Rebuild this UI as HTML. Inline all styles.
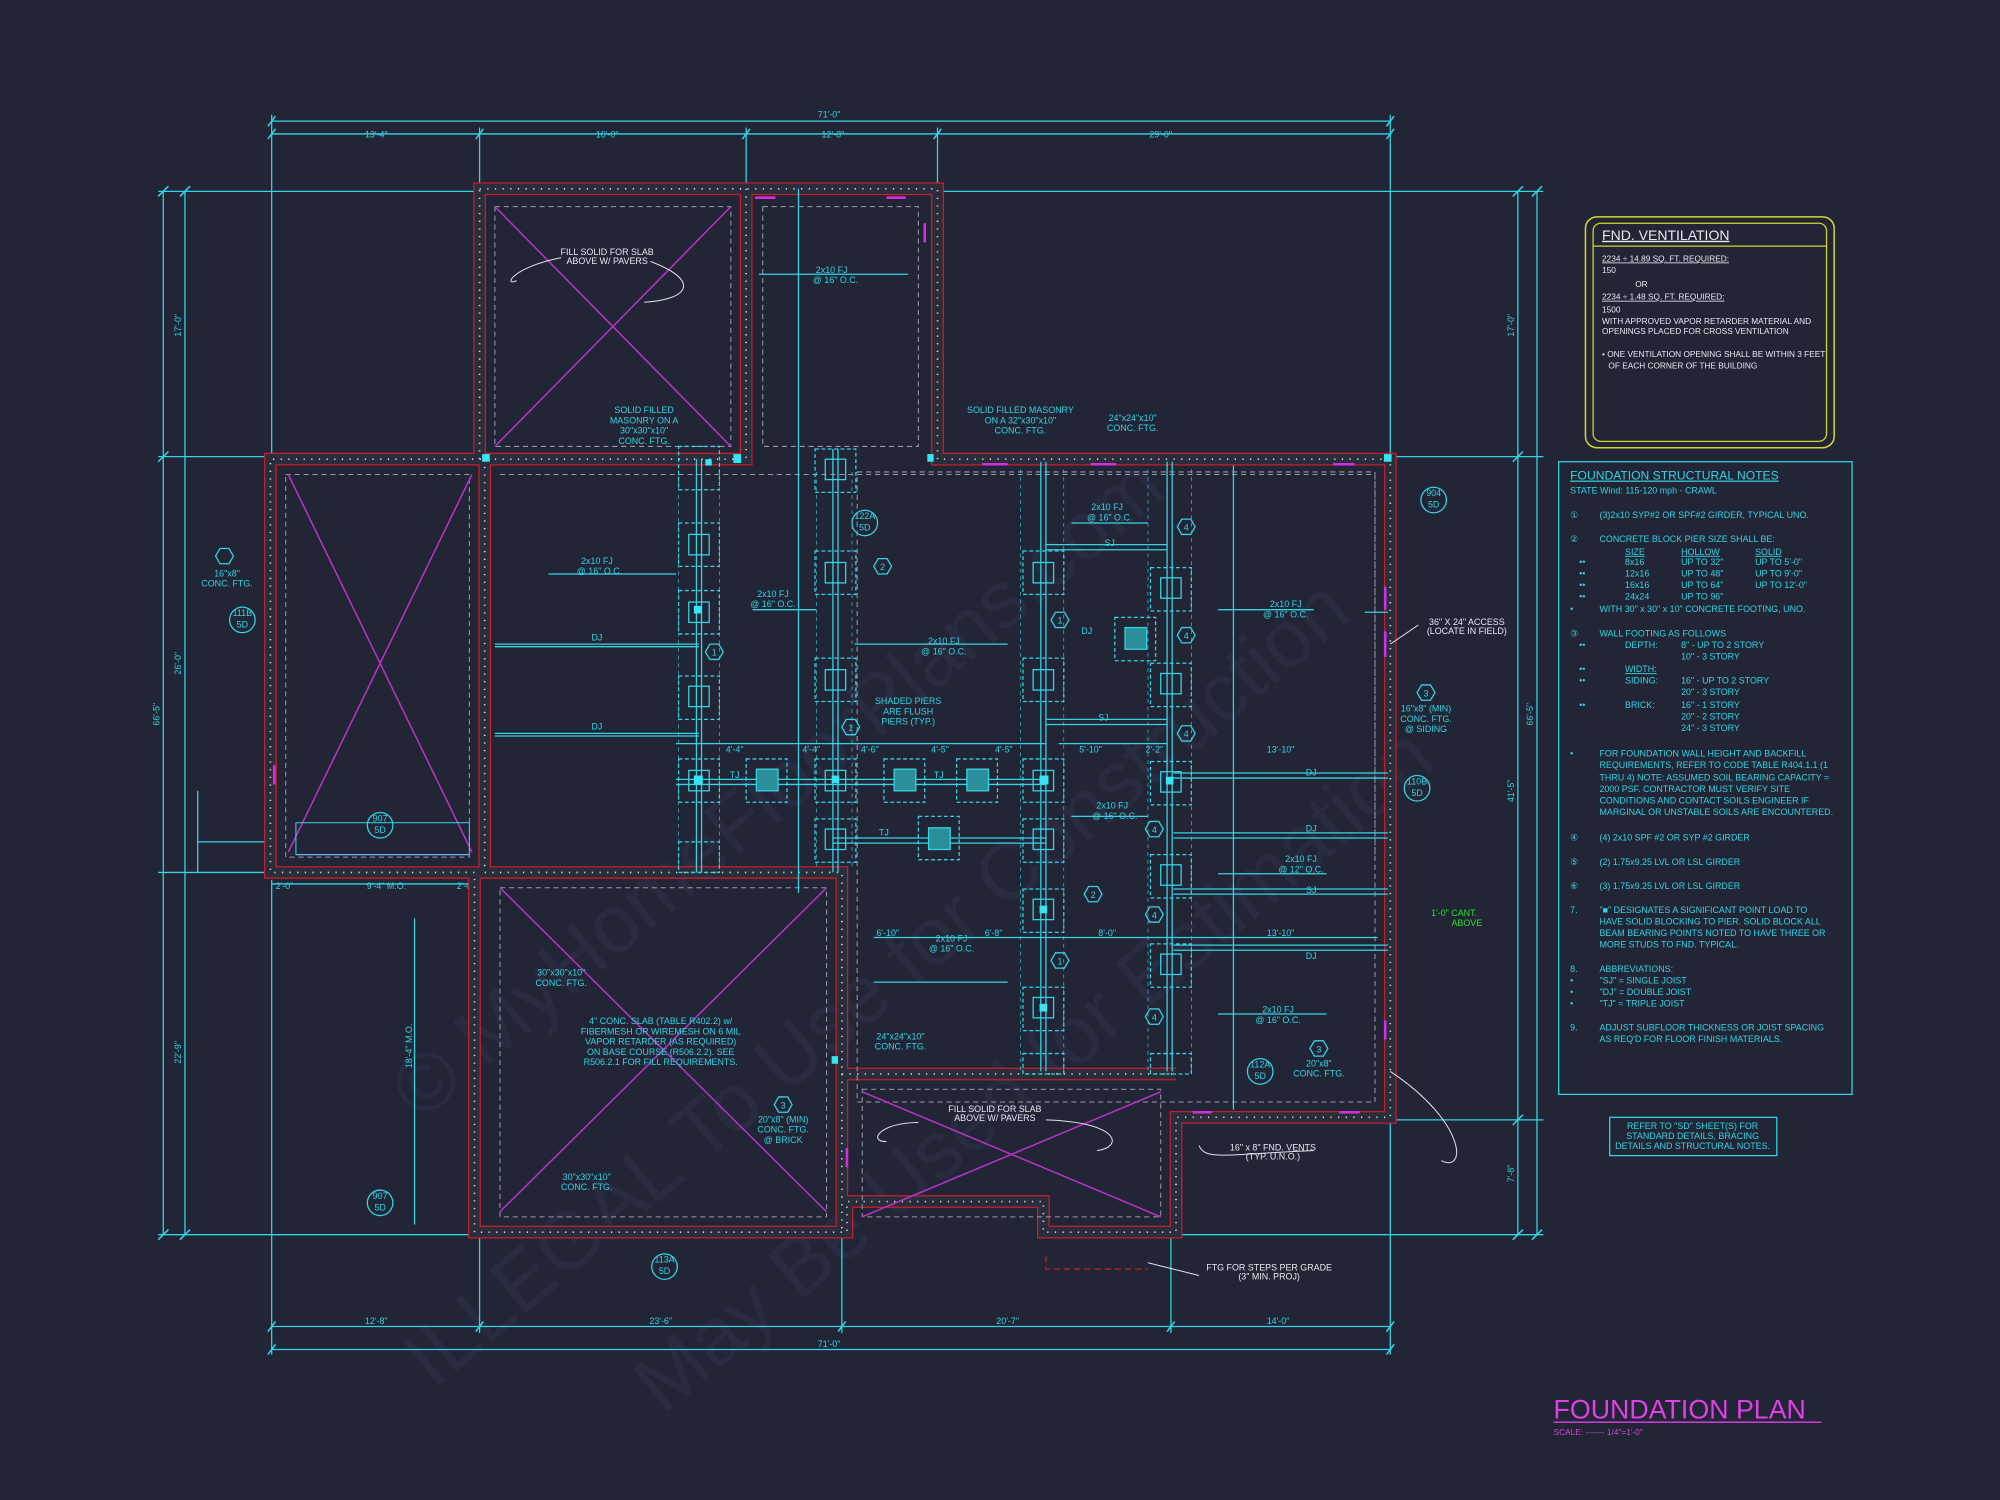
<!DOCTYPE html>
<html><head><meta charset="utf-8"><style>
html,body{margin:0;padding:0;background:#222536;}
svg{display:block}
text{font-family:"Liberation Sans",sans-serif;}
.c{fill:#35d4e2;font-size:7px}
.w{fill:#e8e8ee;font-size:7px}
.y{fill:#e8e8ee;font-size:6.5px}
</style></head><body>
<svg width="2000" height="1500" viewBox="0 0 1568 1176" xmlns="http://www.w3.org/2000/svg">
<defs>
<path id="ow" d="M376,148 H735 V360 H1090 V876 H922 V966 H818 V942 H664 V966 H372 V684 H212 V360 H376 Z M376,360 H585 V148 M380,360 V684 H660 V842 H922 M660,842 V966"/>
<path id="hx" d="M-7,0l3.5,-6h7l3.5,6l-3.5,6h-7z"/>
</defs>
<rect width="1568" height="1176" fill="#222536"/>
<!-- watermark -->
<g fill="#30344a" font-family="Liberation Serif" font-size="64" opacity="0.5">
<text transform="translate(330,880) rotate(-40)">© MyHomeFloorPlans.com</text>
<text transform="translate(340,1090) rotate(-40)">ILLEGAL To Use for Construction</text>
<text transform="translate(520,1110) rotate(-40)">May Be Used for Estimation</text>
</g>
<!-- dimension lines -->
<g stroke="#35d4e2" stroke-width="1" fill="none">
<line x1="213" y1="95" x2="1090" y2="95"/>
<line x1="213" y1="105" x2="1090" y2="105"/>
<line x1="213" y1="1040" x2="1090" y2="1040"/>
<line x1="213" y1="1058" x2="1090" y2="1058"/>
<line x1="128" y1="150" x2="128" y2="968"/>
<line x1="145" y1="150" x2="145" y2="968"/>
<line x1="1190" y1="150" x2="1190" y2="968"/>
<line x1="1205" y1="150" x2="1205" y2="968"/>
<line x1="213" y1="90" x2="213" y2="360"/><line x1="376" y1="100" x2="376" y2="148"/><line x1="585" y1="100" x2="585" y2="148"/>
<line x1="735" y1="100" x2="735" y2="148"/><line x1="1090" y1="90" x2="1090" y2="360"/>
<line x1="213" y1="690" x2="213" y2="1062"/><line x1="376" y1="968" x2="376" y2="1045"/><line x1="660" y1="968" x2="660" y2="1045"/><line x1="918" y1="968" x2="918" y2="1045"/><line x1="1090" y1="878" x2="1090" y2="1062"/>
<line x1="124" y1="150" x2="376" y2="150"/><line x1="124" y1="358" x2="212" y2="358"/><line x1="124" y1="968" x2="372" y2="968"/><line x1="124" y1="684" x2="212" y2="684"/>
<line x1="735" y1="150" x2="1210" y2="150"/><line x1="1092" y1="358" x2="1210" y2="358"/><line x1="1092" y1="878" x2="1210" y2="878"/><line x1="925" y1="968" x2="1210" y2="968"/>
<line x1="155" y1="620" x2="155" y2="684"/><line x1="155" y1="660" x2="210" y2="660"/>
<line x1="213" y1="693" x2="372" y2="693"/>
<line x1="325" y1="720" x2="325" y2="960"/>
</g>
<g stroke="#35d4e2" stroke-width="1.2">
<path d="M210,99l6,-8M373,109l6,-8M582,109l6,-8M732,109l6,-8M1087,99l6,-8M1087,109l6,-8M210,109l6,-8M210,1044l6,-8M210,1062l6,-8M373,1044l6,-8M657,1044l6,-8M915,1044l6,-8M1087,1044l6,-8M1087,1062l6,-8M124,154l8,-8M141,154l8,-8M124,362l8,-8M124,972l8,-8M141,972l8,-8M1186,154l8,-8M1201,154l8,-8M1186,362l8,-8M1186,882l8,-8M1186,972l8,-8M1201,972l8,-8"/>
</g>
<g class="c" text-anchor="middle">
<text x="650" y="92">71'-0"</text><text x="295" y="108">13'-4"</text><text x="476" y="108">16'-0"</text><text x="653" y="108">12'-8"</text><text x="910" y="108">29'-0"</text>
<text x="295" y="1038">12'-8"</text><text x="518" y="1038">23'-6"</text><text x="790" y="1038">20'-7"</text><text x="1002" y="1038">14'-0"</text><text x="650" y="1056">71'-0"</text>
<text transform="translate(125,560) rotate(-90)">66'-5"</text><text transform="translate(142,255) rotate(-90)">17'-0"</text><text transform="translate(142,520) rotate(-90)">26'-0"</text><text transform="translate(142,825) rotate(-90)">22'-9"</text>
<text transform="translate(1202,560) rotate(-90)">66'-5"</text><text transform="translate(1187,255) rotate(-90)">17'-0"</text><text transform="translate(1187,620) rotate(-90)">41'-5"</text><text transform="translate(1187,920) rotate(-90)">7'-8"</text>
<text x="223" y="697">2'-0"</text><text x="303" y="697">9'-4" M.O.</text><text x="365" y="697">2'-0"</text>
<text transform="translate(323,820) rotate(-90)">18'-4" M.O.</text>
</g>
<!-- walls -->
<g fill="none">
<use href="#ow" stroke="#c2202c" stroke-width="10"/>
<use href="#ow" stroke="#2a2d3b" stroke-width="8"/>
<use href="#ow" stroke="#d8d8d8" stroke-width="1.3" stroke-dasharray="1 5"/>
<path d="M388,162 H573 V350 H388 Z M598,162 H720 V350 H598 Z M224,372 H368 V672 H224 Z M392,372 H1078 V672 M392,696 H648 V954 H392 Z M672,370 H1078 V864 H672 Z M676,854 H910 V954 H676 Z" stroke="#9a9aa6" stroke-width="0.8" stroke-dasharray="4 3"/>
</g>
<!-- X slabs -->
<g stroke="#b832c8" stroke-width="1.2">
<line x1="388" y1="162" x2="573" y2="350"/><line x1="573" y1="162" x2="388" y2="350"/>
<line x1="226" y1="372" x2="370" y2="668"/><line x1="370" y1="372" x2="226" y2="668"/>
<line x1="392" y1="950" x2="648" y2="696"/><line x1="392" y1="696" x2="648" y2="950"/>
<line x1="676" y1="856" x2="910" y2="954"/><line x1="676" y1="954" x2="910" y2="856"/>
<line x1="232" y1="670" x2="368" y2="670"/>
</g>
<rect x="232" y="645" width="136" height="25" fill="none" stroke="#35d4e2" stroke-width="0.8"/>
<!-- girders / joists -->
<g stroke="#35d4e2" stroke-width="1" fill="none">
<path d="M546,360V684M550,360V684M653,352V684M657,352V684M816,362V840M820,362V840M915,362V840M919,362V840"/>
<path d="M388,505H548M388,507H548M388,575H548M388,577H548M530,611H820M530,615H820M653,657H820M653,661H820M920,606H1088M920,610H1088M920,653H1088M920,657H1088M920,697H1088M920,701H1088M920,741H1088M920,745H1088M820,427H915M820,431H915M820,564H915M820,568H915"/>
<path d="M532,370V680M564,370V680M640,370V680M668,370V680M800,368V840M834,368V840M900,368V840M934,368V840" stroke-width="0.5" stroke-dasharray="3 3"/>
<path d="M626,148V700M967,365V870M595,215H712M670,505H790M430,450H530M590,478H640M840,410H900M955,478H1030M1088,480H1070M685,770H790M955,795H1040M955,685H1040M840,640H900M685,735H1080M530,583H820M830,583H915"/>
</g>
<!-- piers -->
<g fill="none" stroke="#35d4e2" stroke-width="1">
<g stroke-dasharray="3 2">
<rect x="532" y="350" width="32" height="34"/><rect x="532" y="410" width="32" height="34"/><rect x="532" y="463" width="32" height="34"/><rect x="532" y="530" width="32" height="34"/><rect x="532" y="595" width="32" height="34"/><rect x="532" y="660" width="32" height="24"/>
<rect x="639" y="352" width="32" height="34"/><rect x="639" y="432" width="32" height="34"/><rect x="639" y="516" width="32" height="34"/><rect x="639" y="595" width="32" height="34"/><rect x="639" y="642" width="32" height="34"/>
<rect x="585" y="595" width="32" height="34"/><rect x="693" y="595" width="32" height="34"/><rect x="750" y="595" width="32" height="34"/><rect x="720" y="640" width="32" height="34"/>
<rect x="802" y="432" width="32" height="34"/><rect x="802" y="516" width="32" height="34"/><rect x="802" y="595" width="32" height="34"/><rect x="802" y="642" width="32" height="34"/><rect x="802" y="697" width="32" height="34"/><rect x="802" y="774" width="32" height="34"/><rect x="802" y="826" width="32" height="16"/>
<rect x="902" y="445" width="32" height="34"/><rect x="874" y="484" width="32" height="34"/><rect x="902" y="520" width="32" height="34"/><rect x="902" y="597" width="32" height="34"/><rect x="902" y="670" width="32" height="34"/><rect x="902" y="740" width="32" height="34"/><rect x="902" y="826" width="32" height="16"/>
</g>
<g>
<rect x="540" y="419" width="16" height="16"/><rect x="540" y="472" width="16" height="16"/><rect x="540" y="538" width="16" height="16"/><rect x="540" y="604" width="16" height="16"/>
<rect x="647" y="360" width="16" height="16"/><rect x="647" y="441" width="16" height="16"/><rect x="647" y="525" width="16" height="16"/><rect x="647" y="604" width="16" height="16"/><rect x="647" y="650" width="16" height="16"/>
<rect x="810" y="441" width="16" height="16"/><rect x="810" y="525" width="16" height="16"/><rect x="810" y="604" width="16" height="16"/><rect x="810" y="650" width="16" height="16"/><rect x="810" y="705" width="16" height="16"/><rect x="810" y="782" width="16" height="16"/>
<rect x="910" y="453" width="16" height="16"/><rect x="910" y="528" width="16" height="16"/><rect x="910" y="605" width="16" height="16"/><rect x="910" y="678" width="16" height="16"/><rect x="910" y="748" width="16" height="16"/>
</g>
<g fill="#2a8f9a"><rect x="593" y="603" width="17" height="17"/><rect x="701" y="603" width="17" height="17"/><rect x="758" y="603" width="17" height="17"/><rect x="728" y="649" width="17" height="17"/><rect x="882" y="492" width="17" height="17"/></g>
</g>
<g fill="#35e6f2">
<rect x="544" y="608" width="7" height="7"/><rect x="652" y="608" width="6" height="6"/><rect x="815" y="608" width="7" height="7"/><rect x="914" y="609" width="6" height="6"/><rect x="815" y="710" width="6" height="6"/><rect x="815" y="787" width="6" height="6"/><rect x="544" y="475" width="6" height="6"/>
<rect x="378" y="356" width="6" height="6"/><rect x="553" y="360" width="5" height="5"/><rect x="575" y="356" width="6" height="7"/><rect x="727" y="356" width="5" height="6"/><rect x="1085" y="356" width="6" height="6"/><rect x="652" y="828" width="5" height="6"/>
</g>
<!-- vents magenta -->
<g stroke="#d030e0" stroke-width="2"><path d="M592,155H608M695,155H710M725,175V190M770,364H790M855,364H875M1045,364H1062M1086,460V478M1086,495V515M1086,800V815M935,872H950M1050,872H1066M664,900V915M215,600V615"/></g>
<!-- hex tags -->
<g fill="none" stroke="#35d4e2" stroke-width="1">
<use href="#hx" x="560" y="511"/><use href="#hx" x="667" y="570"/><use href="#hx" x="692" y="444"/><use href="#hx" x="831" y="486"/><use href="#hx" x="930" y="413"/><use href="#hx" x="930" y="498"/><use href="#hx" x="930" y="575"/><use href="#hx" x="905" y="650"/><use href="#hx" x="905" y="717"/><use href="#hx" x="905" y="797"/><use href="#hx" x="831" y="753"/><use href="#hx" x="857" y="701"/><use href="#hx" x="614" y="866"/><use href="#hx" x="1034" y="822"/><use href="#hx" x="1118" y="543"/><use href="#hx" x="176" y="436"/>
<circle cx="678" cy="410" r="10"/><circle cx="190" cy="486" r="10"/><circle cx="298" cy="647" r="10"/><circle cx="298" cy="943" r="10"/><circle cx="521" cy="993" r="10"/><circle cx="988" cy="840" r="10"/><circle cx="1111" cy="618" r="10"/><circle cx="1124" cy="392" r="10"/>
</g>
<g class="c" text-anchor="middle" font-size="6.5">
<text x="560" y="514">1</text><text x="667" y="573">1</text><text x="692" y="447">2</text><text x="831" y="489">1</text><text x="930" y="416">4</text><text x="930" y="501">4</text><text x="930" y="578">4</text><text x="905" y="653">4</text><text x="905" y="720">4</text><text x="905" y="800">4</text><text x="831" y="756">1</text><text x="857" y="704">2</text><text x="614" y="869">3</text><text x="1034" y="825">3</text><text x="1118" y="546">3</text>
<text x="678" y="407">122A</text><text x="678" y="416">5D</text><text x="190" y="483">111B</text><text x="190" y="492">5D</text><text x="298" y="644">907</text><text x="298" y="653">5D</text><text x="298" y="940">907</text><text x="298" y="949">5D</text><text x="521" y="990">113A</text><text x="521" y="999">5D</text><text x="988" y="837">112A</text><text x="988" y="846">5D</text><text x="1111" y="615">110B</text><text x="1111" y="624">5D</text><text x="1124" y="389">904</text><text x="1124" y="398">5D</text>
</g>
<!-- labels -->
<g class="c" text-anchor="middle">
<text x="652" y="214">2x10 FJ</text><text x="655" y="222">@ 16" O.C.</text>
<text x="468" y="442">2x10 FJ</text><text x="470" y="450">@ 16" O.C.</text>
<text x="606" y="468">2x10 FJ</text><text x="606" y="476">@ 16" O.C.</text>
<text x="740" y="505">2x10 FJ</text><text x="740" y="513">@ 16" O.C.</text>
<text x="868" y="400">2x10 FJ</text><text x="870" y="408">@ 16" O.C.</text>
<text x="1008" y="476">2x10 FJ</text><text x="1008" y="484">@ 16" O.C.</text>
<text x="872" y="634">2x10 FJ</text><text x="874" y="642">@ 16" O.C.</text>
<text x="1020" y="676">2x10 FJ</text><text x="1020" y="684">@ 12" O.C.</text>
<text x="746" y="738">2x10 FJ</text><text x="746" y="746">@ 16" O.C.</text>
<text x="1002" y="794">2x10 FJ</text><text x="1002" y="802">@ 16" O.C.</text>
<text x="468" y="502">DJ</text><text x="468" y="572">DJ</text><text x="852" y="497">DJ</text><text x="1028" y="608">DJ</text><text x="1028" y="652">DJ</text><text x="1028" y="752">DJ</text>
<text x="870" y="428">SJ</text><text x="865" y="565">SJ</text><text x="1028" y="700">SJ</text>
<text x="576" y="610">TJ</text><text x="736" y="610">TJ</text><text x="693" y="655">TJ</text>
<text x="576" y="590">4'-4"</text><text x="636" y="590">4'-4"</text><text x="682" y="590">4'-6"</text><text x="737" y="590">4'-5"</text><text x="787" y="590">4'-5"</text><text x="855" y="590">5'-10"</text><text x="905" y="590">2'-2"</text><text x="1004" y="590">13'-10"</text>
<text x="696" y="734">6'-10"</text><text x="779" y="734">6'-8"</text><text x="868" y="734">8'-0"</text><text x="1004" y="734">13'-10"</text>
<text x="712" y="552">SHADED PIERS</text><text x="712" y="560">ARE FLUSH</text><text x="712" y="568">PIERS (TYP.)</text>
<text x="505" y="324">SOLID FILLED</text><text x="505" y="332">MASONRY ON A</text><text x="505" y="340">30"x30"x10"</text><text x="505" y="348">CONC. FTG.</text>
<text x="800" y="324">SOLID FILLED MASONRY</text><text x="800" y="332">ON A 32"x30"x10"</text><text x="800" y="340">CONC. FTG.</text>
<text x="888" y="330">24"x24"x10"</text><text x="888" y="338">CONC. FTG.</text>
<text x="178" y="452">16"x8"</text><text x="178" y="460">CONC. FTG.</text>
<text x="440" y="765">30"x30"x10"</text><text x="440" y="773">CONC. FTG.</text>
<text x="460" y="925">30"x30"x10"</text><text x="460" y="933">CONC. FTG.</text>
<text x="518" y="803">4" CONC. SLAB (TABLE R402.2) w/</text><text x="518" y="811">FIBERMESH OR WIREMESH ON 6 MIL</text><text x="518" y="819">VAPOR RETARDER (AS REQUIRED)</text><text x="518" y="827">ON BASE COURSE (R506.2.2). SEE</text><text x="518" y="835">R506.2.1 FOR FILL REQUIREMENTS.</text>
<text x="706" y="815">24"x24"x10"</text><text x="706" y="823">CONC. FTG.</text>
<text x="614" y="880">20"x8" (MIN)</text><text x="614" y="888">CONC. FTG.</text><text x="614" y="896">@ BRICK</text>
<text x="1034" y="836">20"x8"</text><text x="1034" y="844">CONC. FTG.</text>
<text x="1118" y="558">16"x8" (MIN)</text><text x="1118" y="566">CONC. FTG.</text><text x="1118" y="574">@ SIDING</text>
</g>
<g class="w" text-anchor="middle">
<text x="476" y="200">FILL SOLID FOR SLAB</text><text x="476" y="207">ABOVE W/ PAVERS</text>
<text x="780" y="872">FILL SOLID FOR SLAB</text><text x="780" y="879">ABOVE W/ PAVERS</text>
<text x="1150" y="490">36" X 24" ACCESS</text><text x="1150" y="497">(LOCATE IN FIELD)</text>
<text x="998" y="902">16" x 8" FND. VENTS</text><text x="998" y="909">(TYP. U.N.O.)</text>
<text x="995" y="996">FTG FOR STEPS PER GRADE</text><text x="995" y="1003">(3" MIN. PROJ)</text>
</g>
<text x="1140" y="718" fill="#30e030" font-size="7" text-anchor="middle">1'-0" CANT.</text>
<text x="1150" y="726" fill="#30e030" font-size="7" text-anchor="middle">ABOVE</text>
<g fill="none" stroke="#e0e0e8" stroke-width="0.8">
<path d="M440,202C400,210 395,225 405,220 M510,205C550,220 540,235 505,237 M720,880C690,880 680,895 695,895 M820,878C880,880 880,900 860,902 M940,898C945,910 960,905 1030,902 M1090,840C1150,880 1150,920 1130,910 M1112,490L1090,505 M900,990L940,1000"/>
</g>
<path d="M820,985V995H900" stroke="#c2202c" stroke-dasharray="5 3" fill="none"/>
<!-- ventilation box -->
<rect x="1243" y="170" width="195" height="181" rx="9" fill="none" stroke="#d6d632" stroke-width="1.2"/>
<rect x="1249" y="175" width="183" height="171" rx="6" fill="none" stroke="#d6d632" stroke-width="1"/>
<line x1="1249" y1="193" x2="1432" y2="193" stroke="#d6d632"/>
<text x="1256" y="188" fill="#e8e8ee" font-size="11" text-decoration="underline">FND. VENTILATION</text>
<g class="y">
<text x="1256" y="205" text-decoration="underline">2234 ÷ 14.89 SQ. FT. REQUIRED:</text><text x="1256" y="214">150</text><text x="1282" y="225">OR</text>
<text x="1256" y="235" text-decoration="underline">2234 ÷ 1.48 SQ. FT. REQUIRED:</text><text x="1256" y="245">1500</text>
<text x="1256" y="254">WITH APPROVED VAPOR RETARDER MATERIAL AND</text><text x="1256" y="262">OPENINGS PLACED FOR CROSS VENTILATION</text>
<text x="1256" y="280">• ONE VENTILATION OPENING SHALL BE WITHIN 3 FEET</text><text x="1261" y="289">OF EACH CORNER OF THE BUILDING</text>
</g>
<!-- structural notes -->
<rect x="1222" y="362" width="230" height="496" fill="none" stroke="#35d4e2"/>
<g class="c" font-size="6.8">
<text x="1231" y="376" font-size="9.5" text-decoration="underline">FOUNDATION STRUCTURAL NOTES</text>
<text x="1231" y="387">STATE Wind: 115-120 mph - CRAWL</text>
<text x="1231" y="406">①</text><text x="1254" y="406">(3)2x10 SYP#2 OR SPF#2 GIRDER, TYPICAL UNO.</text>
<text x="1231" y="425">②</text><text x="1254" y="425">CONCRETE BLOCK PIER SIZE SHALL BE:</text>
<text x="1274" y="435" text-decoration="underline">SIZE</text><text x="1318" y="435" text-decoration="underline">HOLLOW</text><text x="1376" y="435" text-decoration="underline">SOLID</text>
<text x="1238" y="443">••</text><text x="1274" y="443">8x16</text><text x="1318" y="443">UP TO 32"</text><text x="1376" y="443">UP TO 5'-0"</text>
<text x="1238" y="452">••</text><text x="1274" y="452">12x16</text><text x="1318" y="452">UP TO 48"</text><text x="1376" y="452">UP TO 9'-0"</text>
<text x="1238" y="461">••</text><text x="1274" y="461">16x16</text><text x="1318" y="461">UP TO 64"</text><text x="1376" y="461">UP TO 12'-0"</text>
<text x="1238" y="470">••</text><text x="1274" y="470">24x24</text><text x="1318" y="470">UP TO 96"</text>
<text x="1231" y="480">•</text><text x="1254" y="480">WITH 30" x 30" x 10" CONCRETE FOOTING, UNO.</text>
<text x="1231" y="499">③</text><text x="1254" y="499">WALL FOOTING AS FOLLOWS</text>
<text x="1238" y="508">••</text><text x="1274" y="508">DEPTH:</text><text x="1318" y="508">8" - UP TO 2 STORY</text><text x="1318" y="517">10" - 3 STORY</text>
<text x="1238" y="527">••</text><text x="1274" y="527" text-decoration="underline">WIDTH:</text>
<text x="1238" y="536">••</text><text x="1274" y="536">SIDING:</text><text x="1318" y="536">16" - UP TO 2 STORY</text><text x="1318" y="545">20" - 3 STORY</text>
<text x="1238" y="555">••</text><text x="1274" y="555">BRICK:</text><text x="1318" y="555">16" - 1 STORY</text><text x="1318" y="564">20" - 2 STORY</text><text x="1318" y="573">24" - 3 STORY</text>
<text x="1231" y="593">•</text><text x="1254" y="593">FOR FOUNDATION WALL HEIGHT AND BACKFILL</text><text x="1254" y="602">REQUIREMENTS, REFER TO CODE TABLE R404.1.1 (1</text><text x="1254" y="612">THRU 4) NOTE: ASSUMED SOIL BEARING CAPACITY =</text><text x="1254" y="621">2000 PSF. CONTRACTOR MUST VERIFY SITE</text><text x="1254" y="630">CONDITIONS AND CONTACT SOILS ENGINEER IF</text><text x="1254" y="639">MARGINAL OR UNSTABLE SOILS ARE ENCOUNTERED.</text>
<text x="1231" y="659">④</text><text x="1254" y="659">(4) 2x10 SPF #2 OR SYP #2 GIRDER</text>
<text x="1231" y="678">⑤</text><text x="1254" y="678">(2) 1.75x9.25 LVL OR LSL GIRDER</text>
<text x="1231" y="697">⑥</text><text x="1254" y="697">(3) 1.75x9.25 LVL OR LSL GIRDER</text>
<text x="1231" y="716">7.</text><text x="1254" y="716">"■" DESIGNATES A SIGNIFICANT POINT LOAD TO</text><text x="1254" y="725">HAVE SOLID BLOCKING TO PIER. SOLID BLOCK ALL</text><text x="1254" y="734">BEAM BEARING POINTS NOTED TO HAVE THREE OR</text><text x="1254" y="743">MORE STUDS TO FND. TYPICAL.</text>
<text x="1231" y="762">8.</text><text x="1254" y="762">ABBREVIATIONS:</text>
<text x="1231" y="771">•</text><text x="1254" y="771">"SJ" = SINGLE JOIST</text><text x="1231" y="780">•</text><text x="1254" y="780">"DJ" = DOUBLE JOIST</text><text x="1231" y="789">•</text><text x="1254" y="789">"TJ" = TRIPLE JOIST</text>
<text x="1231" y="808">9.</text><text x="1254" y="808">ADJUST SUBFLOOR THICKNESS OR JOIST SPACING</text><text x="1254" y="817">AS REQ'D FOR FLOOR FINISH MATERIALS.</text>
</g>
<rect x="1262" y="876" width="131" height="30" fill="none" stroke="#35d4e2"/>
<g class="c" text-anchor="middle" font-size="6.5"><text x="1327" y="885">REFER TO "SD" SHEET(S) FOR</text><text x="1327" y="893">STANDARD DETAILS, BRACING</text><text x="1327" y="901">DETAILS AND STRUCTURAL NOTES.</text></g>
<text x="1218" y="1112" fill="#e040e8" font-size="21">FOUNDATION PLAN</text>
<line x1="1218" y1="1115" x2="1428" y2="1115" stroke="#e040e8"/>
<text x="1218" y="1125" fill="#e040e8" font-size="6.5">SCALE: ------- 1/4"=1'-0"</text>
</svg>
</body></html>
